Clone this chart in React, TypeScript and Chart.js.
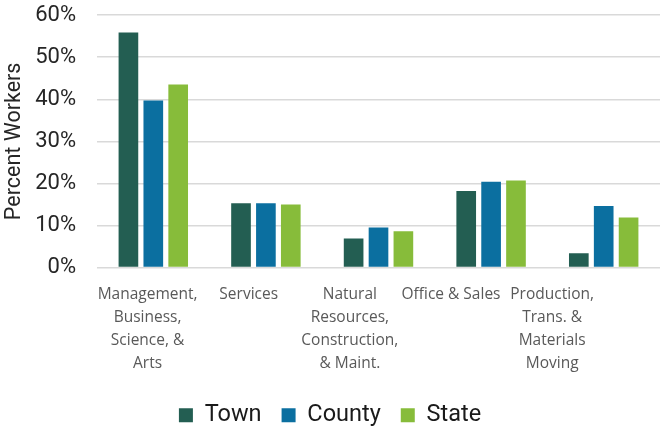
import React, { useEffect, useRef } from "react";
import { Chart, registerables } from "chart.js";

Chart.register(...registerables);

const categories: string[][] = [
  ["Management,", "Business,", "Science, &", "Arts"],
  ["Services"],
  ["Natural", "Resources,", "Construction,", "& Maint."],
  ["Office & Sales"],
  ["Production,", "Trans. &", "Materials", "Moving"],
];
const townValues = [55.9, 15.3, 6.9, 18.2, 3.4];
const countyValues = [39.7, 15.3, 9.5, 20.4, 14.6];
const stateValues = [43.5, 15.0, 8.6, 20.7, 11.9];
const yTicks = [0, 10, 20, 30, 40, 50, 60];

export default function App() {
  const ref = useRef<HTMLCanvasElement | null>(null);
  useEffect(() => {
    if (!ref.current) return;
    const chart = new Chart(ref.current, {
      type: "bar",
      data: {
        labels: categories.map((c) => c.join(" ")),
        datasets: [
          { label: "Town", data: townValues, backgroundColor: "#235E52" },
          { label: "County", data: countyValues, backgroundColor: "#0B6FA0" },
          { label: "State", data: stateValues, backgroundColor: "#87BC3A" },
        ],
      },
      options: {
        animation: false,
        responsive: true,
        maintainAspectRatio: false,
        layout: { padding: { top: 0, right: 0, left: 0, bottom: -11 } },
        datasets: {
          bar: { categoryPercentage: 0.663, barPercentage: 0.79, borderWidth: 0 },
        },
        scales: {
          x: {
            type: "category",
            display: false,
          },
          x2: {
            type: "linear",
            position: "bottom",
            offset: false,
            min: -0.5,
            max: -0.5 + 565 / 101.5,
            afterBuildTicks: (axis: any) => {
              axis.ticks = categories.map((_, i) => ({ value: i }));
            },
            afterFit: (axis: any) => {
              axis.height -= 7;
            },
            grid: { display: false, drawTicks: false },
            border: { display: false },
            ticks: {
              autoSkip: false,
              maxRotation: 0,
              minRotation: 0,
              padding: 15,
              color: "#595959",
              font: { family: "'Open Sans'", size: 15.5, lineHeight: 1.5 },
              callback: (v: any) => categories[Math.round(Number(v))] ?? "",
            },
          },
          y: {
            min: 0,
            max: 60,
            afterBuildTicks: (axis: any) => {
              axis.ticks = yTicks.map((v) => ({ value: v }));
            },
            afterFit: (axis: any) => {
              axis.width = 97;
            },
            grid: {
              color: "#d9d9d9",
              lineWidth: 1.5,
              drawTicks: true,
              tickLength: 19,
              tickColor: "rgba(0,0,0,0)",
            },
            border: { display: false },
            ticks: {
              padding: 2,
              color: "#262626",
              font: { family: "Roboto", size: 22, lineHeight: 1.2 },
              callback: (v: any) => v + "%",
            },
            title: {
              display: true,
              text: "Percent Workers",
              color: "#262626",
              font: { family: "Roboto", size: 21.5 },
              padding: { top: 2, bottom: 0 },
            },
          },
        },
        plugins: {
          tooltip: { enabled: false },
          legend: {
            position: "bottom",
            labels: {
              boxWidth: 14,
              boxHeight: 14,
              padding: 20,
              color: "#1a1a1a",
              font: { family: "Roboto", size: 23.5 },
            },
          },
        },
      },
    });
    return () => chart.destroy();
  }, []);
  return (
    <div style={{ position: "absolute", left: 0, top: 0, width: 660, height: 426, background: "#fff" }}>
      <canvas ref={ref} />
    </div>
  );
}
